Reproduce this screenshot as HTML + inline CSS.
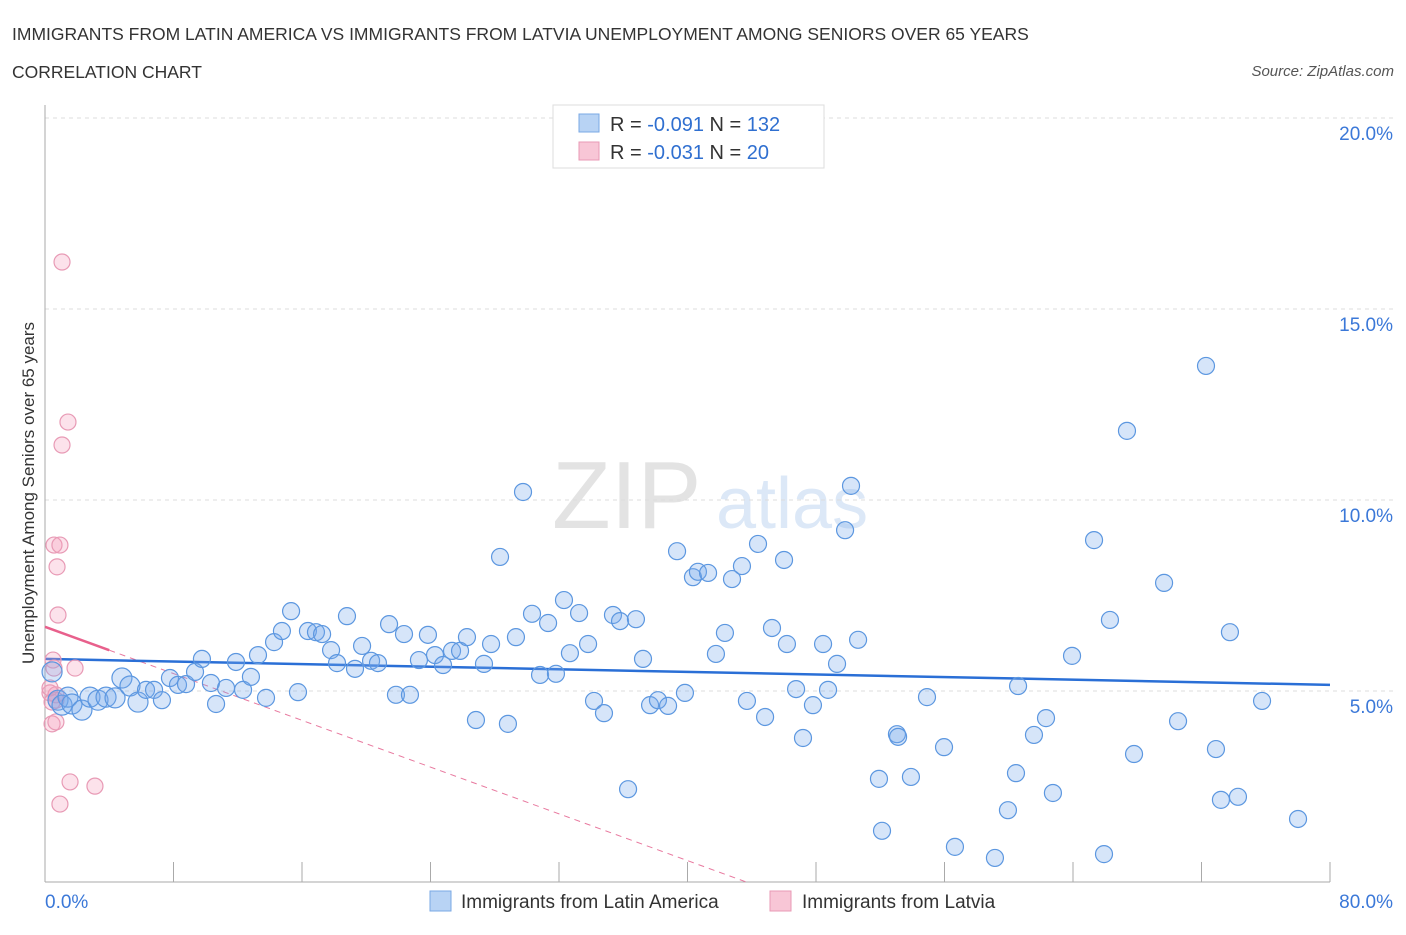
<!DOCTYPE html>
<html><head><meta charset="utf-8">
<style>
body{margin:0;background:#fff;font-family:"Liberation Sans",sans-serif;}
svg text{font-family:"Liberation Sans",sans-serif;}
</style></head>
<body>
<svg id="chart" width="1406" height="930" xmlns="http://www.w3.org/2000/svg">
<text x="12" y="40" font-size="17.5" fill="#333">IMMIGRANTS FROM LATIN AMERICA VS IMMIGRANTS FROM LATVIA UNEMPLOYMENT AMONG SENIORS OVER 65 YEARS</text>
<text x="12" y="78" font-size="17.5" fill="#333">CORRELATION CHART</text>
<text x="1394" y="76" font-size="15" fill="#555" font-style="italic" text-anchor="end">Source: ZipAtlas.com</text>
<g>
<text x="552" y="528" font-size="96" fill="#e3e3e3" font-family="Liberation Serif, serif">ZIP</text>
<text x="716" y="528" font-size="72" fill="#dce8f7">atlas</text>
</g>
<g id="grid"></g>
<g id="axes"></g>
<g id="trend"></g>
<g id="pts"></g>
<text transform="translate(34,493) rotate(-90)" font-size="17" fill="#333" text-anchor="middle">Unemployment Among Seniors over 65 years</text>
<g>
<rect x="553" y="105" width="271" height="63" fill="#fff" stroke="#ddd"/>
<rect x="579" y="114" width="20" height="18" fill="#b8d3f4" stroke="#7aa8e4"/>
<rect x="579" y="142" width="20" height="18" fill="#f8c6d6" stroke="#e89ab5"/>
<text x="610" y="131" font-size="20" fill="#333">R = <tspan fill="#2f6fd0">-0.091</tspan>   N = <tspan fill="#2f6fd0">132</tspan></text>
<text x="610" y="159" font-size="20" fill="#333">R = <tspan fill="#2f6fd0">-0.031</tspan>   N = <tspan fill="#2f6fd0"> 20</tspan></text>
</g>
<g>
<rect x="430" y="891" width="21" height="20" fill="#b8d3f4" stroke="#7aa8e4"/>
<text x="461" y="908" font-size="19" fill="#333">Immigrants from Latin America</text>
<rect x="770" y="891" width="21" height="20" fill="#f8c6d6" stroke="#e89ab5"/>
<text x="802" y="908" font-size="19" fill="#333">Immigrants from Latvia</text>
</g>
</svg>
<script>
const blueX=[0.44,0.81,1.06,1.43,1.68,2.30,2.80,3.30,3.80,4.36,4.79,5.29,5.79,6.29,6.79,7.28,7.78,8.28,8.78,9.34,9.77,10.33,10.65,11.27,11.89,12.33,12.82,13.26,13.76,14.26,14.75,15.32,15.75,16.37,16.87,17.25,17.81,18.18,18.80,19.30,19.74,20.30,20.73,21.42,21.85,22.35,22.72,23.28,23.84,24.28,24.78,25.34,25.84,26.27,26.83,27.33,27.77,28.33,28.82,29.32,29.76,30.32,30.82,31.32,31.81,32.31,32.68,33.25,33.81,34.18,34.80,35.36,35.80,36.30,36.79,37.23,37.67,38.16,38.79,39.35,39.84,40.34,40.65,41.28,41.77,42.33,42.77,43.39,43.70,44.39,44.83,45.26,46.01,46.19,46.76,47.19,47.81,48.44,48.75,49.31,49.81,50.18,50.62,51.92,52.11,53.04,53.11,53.91,54.91,55.97,56.65,59.14,59.95,60.45,60.58,61.57,62.32,62.75,63.94,65.31,65.93,66.30,67.36,67.80,69.67,70.54,72.28,72.90,73.21,73.77,74.27,75.77,78.01];
const blueY=[5.50,4.76,4.63,4.84,4.66,4.50,4.84,4.76,4.84,4.82,5.34,5.13,4.71,5.03,5.03,4.76,5.34,5.16,5.18,5.50,5.84,5.21,4.66,5.08,5.76,5.03,5.37,5.94,4.82,6.28,6.57,7.09,4.97,6.57,6.54,6.49,6.07,5.73,6.96,5.58,6.18,5.79,5.73,6.75,4.90,6.49,4.90,5.81,6.47,5.94,5.68,6.05,6.05,6.41,4.24,5.71,6.23,8.51,4.14,6.41,10.21,7.02,5.42,6.78,5.45,7.38,5.99,7.04,6.23,4.74,4.42,6.99,6.83,2.43,6.88,5.84,4.63,4.76,4.61,8.66,4.95,7.98,8.12,8.09,5.97,6.52,7.93,8.27,4.74,8.85,4.32,6.65,8.43,6.23,5.05,3.77,4.63,6.23,5.03,5.71,9.21,10.37,6.34,2.70,1.34,3.87,3.80,2.75,4.84,3.53,0.92,0.63,1.88,2.85,5.13,3.85,4.29,2.33,5.92,8.95,0.73,6.86,11.81,3.35,7.83,4.21,13.51,3.48,2.15,6.54,2.23,4.74,1.65];
const pinkX=[1.06,1.43,1.06,0.56,0.93,0.75,0.81,0.50,0.56,1.87,0.31,0.68,0.44,0.44,0.68,1.56,3.11,0.93,0.31,0.68];
const pinkY=[16.23,12.04,11.44,8.82,8.82,8.25,6.99,5.81,5.60,5.60,4.95,4.90,4.71,4.14,4.19,2.62,2.51,2.04,5.08,4.76];
const blueTrend=[5.84,5.16];   // y at x=0 and x=80
const pinkTrend=[6.68,-0.153]; // intercept, slope
const yTicks=[5,10,15,20];
const yTickLabels=["5.0%","10.0%","15.0%","20.0%"];
const xTicks=[0,8,16,24,32,40,48,56,64,72,80];

const NS="http://www.w3.org/2000/svg";
const X0=45,X1=1330,Y0=882,Y20=118;
const sx=v=>X0+(v/80)*(X1-X0);
const sy=v=>Y0-(v/20)*(Y0-Y20);
function mk(tag,attrs,parent){const e=document.createElementNS(NS,tag);for(const k in attrs)e.setAttribute(k,attrs[k]);parent.appendChild(e);return e;}
const grid=document.getElementById('grid'),axes=document.getElementById('axes'),trend=document.getElementById('trend'),pts=document.getElementById('pts');
yTicks.forEach((t,i)=>{
  const l=mk('line',{x1:X0,x2:1395,y1:sy(t),y2:sy(t),stroke:'#ddd','stroke-dasharray':'4,4'},grid);
  
  
  const tx=mk('text',{x:1393,y:sy(t)+22,'font-size':19,fill:'#3b78d8','text-anchor':'end'},axes);
  tx.textContent=yTickLabels[i];
  
  
});
mk('line',{x1:X0,x2:X0,y1:105,y2:Y0,stroke:'#aaa'},axes);
mk('line',{x1:X0,x2:X1,y1:Y0,y2:Y0,stroke:'#aaa'},axes);
xTicks.forEach(t=>{
  const l=mk('line',{x1:sx(t),x2:sx(t),y1:Y0-20,y2:Y0,stroke:'#aaa'},axes);
  
  
});
const xl=mk('text',{x:45,y:908,'font-size':19,fill:'#3b78d8'},axes);xl.textContent='0.0%';


const xr=mk('text',{x:1393,y:908,'font-size':19,fill:'#3b78d8','text-anchor':'end'},axes);xr.textContent='80.0%';



pinkX.forEach((x,i)=>{
  const c=mk('circle',{cx:sx(x),cy:sy(pinkY[i]),r:8,fill:'rgba(244,160,190,0.3)',stroke:'#e89ab5','stroke-width':1.2},pts);
  
  
});
blueX.forEach((x,i)=>{
  const c=mk('circle',{cx:sx(x),cy:sy(blueY[i]),r:x<6?10:8.5,fill:'rgba(120,170,235,0.3)',stroke:'#5c97e0','stroke-width':1.2},pts);
  
  
});
const pz=-pinkTrend[0]/pinkTrend[1];
const pd=mk('line',{x1:sx(4),y1:sy(pinkTrend[0]+pinkTrend[1]*4),x2:sx(pz),y2:sy(0),stroke:'#e8799f','stroke-width':1,'stroke-dasharray':'6,5'},trend);


const ps=mk('line',{x1:sx(0),y1:sy(pinkTrend[0]),x2:sx(4),y2:sy(pinkTrend[0]+pinkTrend[1]*4),stroke:'#e8608c','stroke-width':2.5},trend);


const bt=mk('line',{x1:sx(0),y1:sy(blueTrend[0]),x2:sx(80),y2:sy(blueTrend[1]),stroke:'#2a6fd6','stroke-width':2.5},trend);


</script>
</body></html>
